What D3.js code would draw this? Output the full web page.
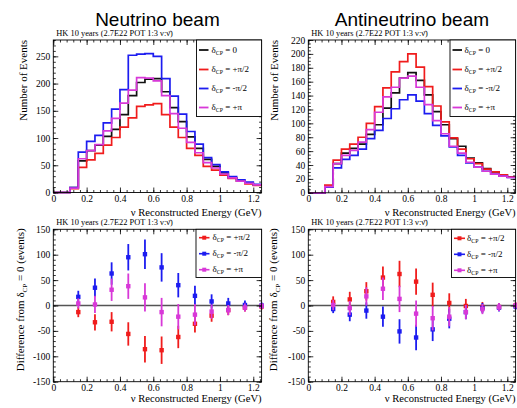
<!DOCTYPE html>
<html>
<head>
<meta charset="utf-8">
<script src="https://cdn.jsdelivr.net/npm/d3@7/dist/d3.min.js"></script>
<style>
  body { margin: 0; background: #fff; }
  svg { display: block; }
</style>
</head>
<body>
<svg id="chart" width="517" height="408"></svg>
<script>
// ---- data ----
// histogram bins: low edges (GeV), bin width 0.05, last edge 1.25
var binLow = [0, 0.05, 0.1, 0.15, 0.2, 0.25, 0.3, 0.35, 0.4, 0.45, 0.5, 0.55, 0.6,
              0.65, 0.7, 0.75, 0.8, 0.85, 0.9, 0.95, 1.0, 1.05, 1.1, 1.15, 1.2];
var binEnd = 1.25;

// neutrino beam, number of events
var nuZero   = [0, 0, 9, 58, 77, 87, 103, 116, 143, 178, 202, 208, 209, 185, 156, 130, 102, 81, 61, 48, 36, 27, 21, 17, 14];
var nuPlus   = [0, 0, 7, 46, 60, 72, 87, 101, 120, 137, 158, 161, 163, 143, 120, 101, 81, 68, 48, 41, 32, 26, 21, 16, 13];
var nuMinus  = [0, 0, 9, 74, 94, 105, 128, 153, 189, 252, 254, 255, 250, 209, 177, 144, 112, 89, 64, 51, 38, 29, 23, 19, 15];
var nuPi     = [0, 0, 8, 62, 77, 88, 113, 136, 164, 188, 211, 210, 205, 178, 145, 118, 92, 73, 55, 45, 34, 27, 21, 17, 14];

// antineutrino beam, number of events
var antiZero  = [0, 0, 9, 42, 57, 64, 70, 84, 98, 122, 144, 165, 173, 162, 141, 117, 98, 78, 67, 50, 43, 35, 30, 26, 23];
var antiPlus  = [0, 0, 11, 47, 63, 70, 80, 100, 124, 151, 174, 189, 200, 181, 153, 125, 102, 79, 63, 49, 42, 34, 30, 26, 23];
var antiMinus = [0, 0, 8, 36, 48, 54, 63, 78, 90, 107, 121, 134, 141, 132, 114, 97, 82, 66, 54, 43, 37, 31, 27, 24, 22];
var antiPi    = [0, 0, 9, 42, 54, 61, 73, 91, 116, 138, 152, 165, 168, 152, 127, 104, 85, 67, 57, 44, 37, 31, 27, 24, 22];

// difference from delta_CP = 0, points at these energies
var diffE = [0.15, 0.25, 0.35, 0.45, 0.55, 0.65, 0.75, 0.85, 0.95, 1.05, 1.15, 1.25];

var nuDiffPlus     = [-13, -33, -32, -56, -86, -88, -62, -36, -20, -9, -4, -2];
var nuDiffPlusErr  = [10, 16, 19, 23, 26, 27, 22, 17, 12, 10, 8, 6];
var nuDiffMinus    = [17, 35, 63, 95, 101, 75, 40, 19, 8, 4, 1, 0];
var nuDiffMinusErr = [12, 18, 22, 26, 29, 28, 24, 20, 14, 11, 9, 6];
var nuDiffPi       = [4, 2, 31, 38, 16, -13, -22, -18, -12, -9, -4, -1];
var nuDiffPiErr    = [10, 17, 22, 25, 28, 28, 25, 21, 14, 10, 8, 6];

var antiDiffPlus     = [7, 12, 28, 55, 62, 47, 21, 5, -1, -3, -3, 0];
var antiDiffPlusErr  = [11, 15, 18, 22, 26, 26, 24, 19, 14, 10, 8, 6];
var antiDiffMinus    = [-7, -18, -10, -22, -51, -63, -47, -26, -13, -5, -4, -2];
var antiDiffMinusErr = [8, 13, 16, 20, 24, 25, 23, 19, 14, 10, 8, 6];
var antiDiffPi       = [1, -5, 18, 33, 13, -16, -25, -22, -13, -7, -3, 0];
var antiDiffPiErr    = [10, 14, 18, 22, 26, 26, 24, 19, 14, 10, 8, 6];

// tick labels
var xTicks = [0, 0.2, 0.4, 0.6, 0.8, 1, 1.2];
var nuTicks = [0, 50, 100, 150, 200, 250];
var antiTicks = [0, 20, 40, 60, 80, 100, 120, 140, 160, 180, 200, 220];
var diffTicks = [-150, -100, -50, 0, 50, 100, 150];

var legendHist = ["0", "+\u03c0/2", "-\u03c0/2", "+\u03c0"];
var legendDiff = ["+\u03c0/2", "-\u03c0/2", "+\u03c0"];

var cBlack = "#111", cRed = "#f01c1c", cBlue = "#1c1cf0", cMag = "#d838d8";
var serif = "'Liberation Serif', 'Times New Roman', serif";
var sans = "'Liberation Sans', Arial, sans-serif";
var subtitle = "HK 10 years (2.7E22 POT 1:3 \u03bd:\u03bd\u0304)";

var svg = d3.select("#chart");

function fmt(d) { return String(+d.toFixed(1)); }

function frameAxes(g, x, y, yMajors, yMinorStep, xMinorStep) {
  var x0 = x.range()[0], x1 = x.range()[1];
  var yb = y.range()[0], yt = y.range()[1];
  var xMinor = d3.range(0, x.domain()[1] + 1e-9, xMinorStep);
  var yMinor = d3.range(y.domain()[0], y.domain()[1] + 1e-9, yMinorStep);

  function style(a) {
    a.select(".domain").remove();
    a.selectAll("line").attr("stroke", "#000").attr("stroke-width", 0.8);
    a.selectAll("text").attr("font-family", serif).attr("font-size", 9.5).attr("fill", "#000");
  }

  g.append("g").attr("transform", "translate(0," + yb + ")")
    .call(d3.axisBottom(x).tickValues(xTicks).tickSize(-5).tickPadding(2.5).tickFormat(fmt)).call(style);
  g.append("g").attr("transform", "translate(0," + yb + ")")
    .call(d3.axisBottom(x).tickValues(xMinor).tickSize(-2.5).tickFormat("")).call(style);
  g.append("g").attr("transform", "translate(0," + yt + ")")
    .call(d3.axisTop(x).tickValues(xTicks).tickSize(-5).tickFormat("")).call(style);
  g.append("g").attr("transform", "translate(0," + yt + ")")
    .call(d3.axisTop(x).tickValues(xMinor).tickSize(-2.5).tickFormat("")).call(style);

  g.append("g").attr("transform", "translate(" + x0 + ",0)")
    .call(d3.axisLeft(y).tickValues(yMajors).tickSize(-5).tickPadding(3).tickFormat(String)).call(style);
  g.append("g").attr("transform", "translate(" + x0 + ",0)")
    .call(d3.axisLeft(y).tickValues(yMinor).tickSize(-2.5).tickFormat("")).call(style);
  g.append("g").attr("transform", "translate(" + x1 + ",0)")
    .call(d3.axisRight(y).tickValues(yMajors).tickSize(-5).tickFormat("")).call(style);
  g.append("g").attr("transform", "translate(" + x1 + ",0)")
    .call(d3.axisRight(y).tickValues(yMinor).tickSize(-2.5).tickFormat("")).call(style);

  g.append("rect").attr("x", x0).attr("y", yt).attr("width", x1 - x0).attr("height", yb - yt)
    .attr("fill", "none").attr("stroke", "#000").attr("stroke-width", 0.9);
}

function deltaLabel(t, rest, size) {
  t.append("tspan").text("\u03b4");
  t.append("tspan").attr("font-size", size * 0.65).attr("dy", size * 0.25).text("CP");
  t.append("tspan").attr("dy", -size * 0.25).text(" = " + rest);
}

function titles(g, x, y, p) {
  var x1 = x.range()[1], yb = y.range()[0], yt = y.range()[1];
  g.append("text").attr("x", x.range()[0] + 3).attr("y", yt - 4)
    .attr("font-family", serif).attr("font-size", 8.4).text(subtitle);
  g.append("text").attr("x", x1).attr("y", p.xTitleY).attr("text-anchor", "end")
    .attr("font-family", serif).attr("font-size", 10.6).text("\u03bd Reconstructed Energy (GeV)");
}

function histPanel(p) {
  var g = svg.append("g");
  var x = d3.scaleLinear().domain([0, binEnd]).range([p.left, p.right]);
  var y = d3.scaleLinear().domain([0, p.yMax]).range([p.bottom, p.top]);

  g.append("text").attr("x", (p.left + p.right) / 2).attr("y", 26).attr("text-anchor", "middle")
    .attr("font-family", sans).attr("font-size", 19).text(p.title);

  var line = d3.line().x(function(d) { return x(d[0]); }).y(function(d) { return y(d[1]); })
    .curve(d3.curveStepAfter);
  p.series.forEach(function(s) {
    var pts = binLow.map(function(b, i) { return [b, s.vals[i]]; });
    pts.push([binEnd, s.vals[s.vals.length - 1]]);
    g.append("path").attr("d", line(pts)).attr("fill", "none")
      .attr("stroke", s.color).attr("stroke-width", 1.7).attr("stroke-linejoin", "miter");
  });

  frameAxes(g, x, y, p.ticks, p.minor, 0.04);
  titles(g, x, y, p);

  g.append("text").attr("transform", "translate(" + p.yTitleX + "," + p.top + ") rotate(-90)")
    .attr("text-anchor", "end").attr("font-family", serif).attr("font-size", 11)
    .text("Number of Events");

  // legend
  var L = p.legend;
  g.append("rect").attr("x", L.x0).attr("y", p.top).attr("width", p.right - L.x0)
    .attr("height", L.y1 - p.top).attr("fill", "#fff").attr("stroke", "#000").attr("stroke-width", 0.9);
  p.series.forEach(function(s, i) {
    var yy = L.rows[i];
    g.append("line").attr("x1", L.lx0).attr("x2", L.lx1).attr("y1", yy).attr("y2", yy)
      .attr("stroke", s.color).attr("stroke-width", 1.8);
    var t = g.append("text").attr("x", L.tx).attr("y", yy + 2.5)
      .attr("font-family", serif).attr("font-size", 9);
    deltaLabel(t, legendHist[i], 9);
  });
}

function diffPanel(p) {
  var g = svg.append("g");
  var x = d3.scaleLinear().domain([0, binEnd]).range([p.left, p.right]);
  var y = d3.scaleLinear().domain([-150, 150]).range([p.bottom, p.top]);

  g.append("line").attr("x1", p.left).attr("x2", p.right).attr("y1", y(0)).attr("y2", y(0))
    .attr("stroke", "#555").attr("stroke-width", 1.5);

  p.series.forEach(function(s) {
    var pts = diffE.map(function(e, i) { return { e: e, v: s.vals[i], err: s.errs[i] }; });
    g.selectAll(null).data(pts).enter().append("line")
      .attr("x1", function(d) { return x(d.e); }).attr("x2", function(d) { return x(d.e); })
      .attr("y1", function(d) { return y(d.v - d.err); }).attr("y2", function(d) { return y(d.v + d.err); })
      .attr("stroke", s.color).attr("stroke-width", 1.8);
    g.selectAll(null).data(pts).enter().append("rect")
      .attr("x", function(d) { return x(d.e) - 2.2; }).attr("y", function(d) { return y(d.v) - 2.2; })
      .attr("width", 4.4).attr("height", 4.4).attr("fill", s.color);
  });

  frameAxes(g, x, y, diffTicks, 10, 0.04);
  titles(g, x, y, p);

  var t = g.append("text").attr("transform", "translate(" + p.yTitleX + "," + (p.top - 1) + ") rotate(-90)")
    .attr("text-anchor", "end").attr("font-family", serif).attr("font-size", 11);
  t.append("tspan").text("Difference from ");
  deltaLabel(t, "0 (events)", 11);

  var L = p.legend;
  g.append("rect").attr("x", L.x0).attr("y", p.top).attr("width", p.right - L.x0)
    .attr("height", L.y1 - p.top).attr("fill", "#fff").attr("stroke", "#000").attr("stroke-width", 0.9);
  p.series.forEach(function(s, i) {
    var yy = L.rows[i];
    g.append("line").attr("x1", L.lx0).attr("x2", L.lx1).attr("y1", yy).attr("y2", yy)
      .attr("stroke", s.color).attr("stroke-width", 1.6);
    g.append("rect").attr("x", (L.lx0 + L.lx1) / 2 - 2).attr("y", yy - 2).attr("width", 4).attr("height", 4)
      .attr("fill", s.color);
    var tt = g.append("text").attr("x", L.tx).attr("y", yy + 2.5)
      .attr("font-family", serif).attr("font-size", 9);
    deltaLabel(tt, legendDiff[i], 9);
  });
}

histPanel({
  title: "Neutrino beam", left: 53.3, right: 261.6, top: 40, bottom: 192.5,
  yMax: 280, ticks: nuTicks, minor: 10, yTitleX: 27, xTitleY: 215.5,
  series: [{ vals: nuZero, color: cBlack }, { vals: nuPlus, color: cRed },
           { vals: nuMinus, color: cBlue }, { vals: nuPi, color: cMag }],
  legend: { x0: 196.5, y1: 116.5, rows: [50, 69.5, 88.5, 107.5], lx0: 199, lx1: 208.5, tx: 211.5 }
});

histPanel({
  title: "Antineutrino beam", left: 308.3, right: 515.6, top: 40, bottom: 192.8,
  yMax: 220, ticks: antiTicks, minor: 5, yTitleX: 278, xTitleY: 215.5,
  series: [{ vals: antiZero, color: cBlack }, { vals: antiPlus, color: cRed },
           { vals: antiMinus, color: cBlue }, { vals: antiPi, color: cMag }],
  legend: { x0: 450, y1: 116.5, rows: [50, 69.5, 88.5, 107.5], lx0: 452.5, lx1: 462, tx: 464.5 }
});

diffPanel({
  left: 53.3, right: 261.6, top: 229.3, bottom: 381.7, yTitleX: 24, xTitleY: 402,
  series: [{ vals: nuDiffPlus, errs: nuDiffPlusErr, color: cRed },
           { vals: nuDiffMinus, errs: nuDiffMinusErr, color: cBlue },
           { vals: nuDiffPi, errs: nuDiffPiErr, color: cMag }],
  legend: { x0: 196, y1: 277.5, rows: [237.7, 253.7, 269.7], lx0: 199, lx1: 209.5, tx: 212.5 }
});

diffPanel({
  left: 308.3, right: 515.6, top: 229.3, bottom: 381.7, yTitleX: 277, xTitleY: 402,
  series: [{ vals: antiDiffPlus, errs: antiDiffPlusErr, color: cRed },
           { vals: antiDiffMinus, errs: antiDiffMinusErr, color: cBlue },
           { vals: antiDiffPi, errs: antiDiffPiErr, color: cMag }],
  legend: { x0: 451.5, y1: 277.5, rows: [238.3, 254.3, 270.3], lx0: 454, lx1: 465, tx: 467 }
});
</script>
</body>
</html>
